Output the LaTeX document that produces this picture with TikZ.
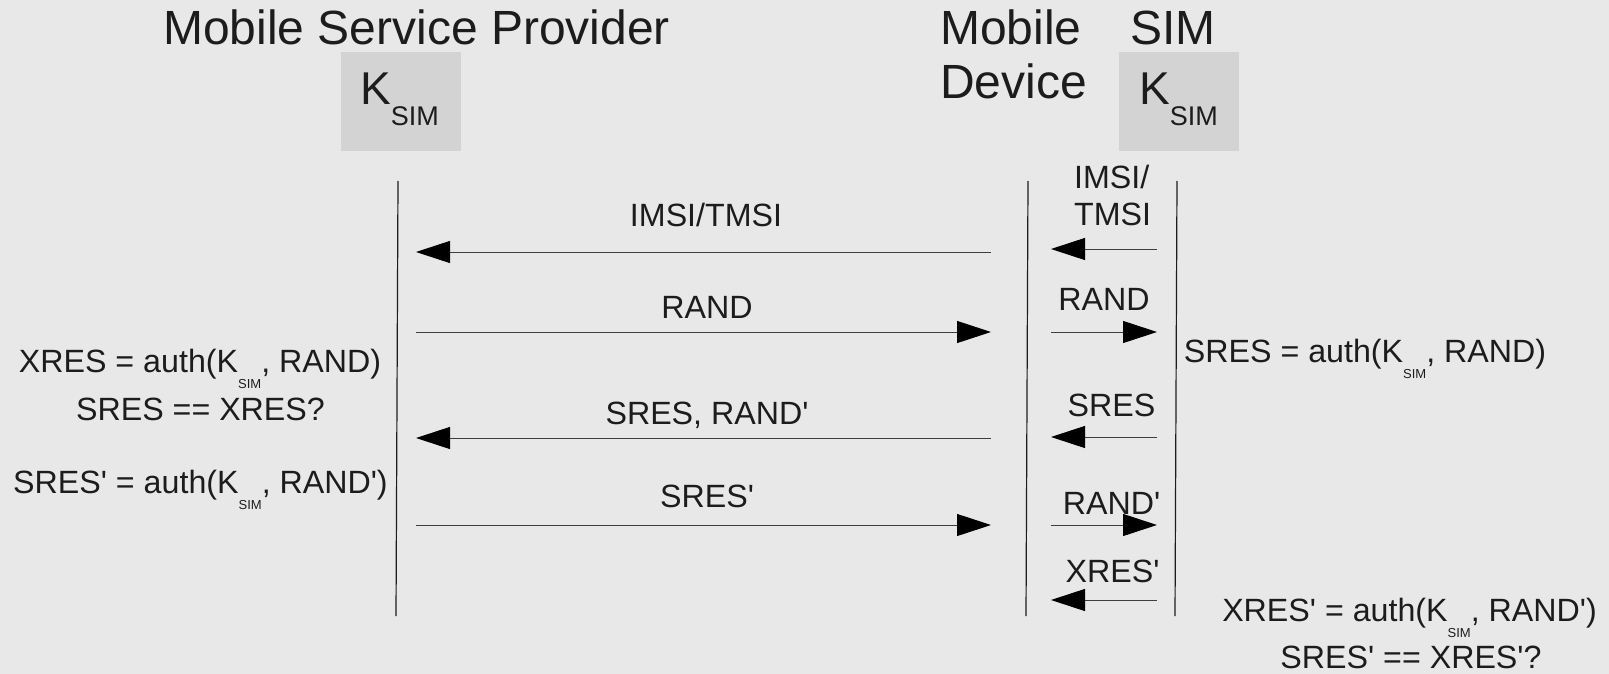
\documentclass[tikz,border=0pt]{standalone}
\usepackage{fontspec}
\setmainfont{Liberation Sans}
\usetikzlibrary{arrows.meta}
\definecolor{bg}{RGB}{232,232,232}
\definecolor{boxfill}{RGB}{211,211,211}
\definecolor{ink}{RGB}{28,28,28}
\newcommand{\ksub}{K\raisebox{-16pt}{\fontsize{13}{13}\selectfont SIM}}
\newcommand{\kbig}{K\raisebox{-21pt}{\fontsize{27}{27}\selectfont SIM}}
\newcommand{\pr}{\textquotesingle}
\begin{document}
\begin{tikzpicture}[x=1pt,y=-1pt,
  title/.style={font=\fontsize{48}{48}\selectfont, text=ink, inner sep=0, anchor=base west},
  keytxt/.style={font=\fontsize{46}{46}\selectfont, text=ink, inner sep=0, anchor=base west},
  lbl/.style={font=\fontsize{32.2}{32.2}\selectfont, text=ink, inner sep=0, anchor=base},
  lblw/.style={font=\fontsize{32.2}{32.2}\selectfont, text=ink, inner sep=0, anchor=base west},
  keybox/.style={fill=boxfill, draw=none, inner sep=0, minimum width=120pt, minimum height=99pt},
  life/.style={line width=1.2pt, draw=ink},
  msg/.style={line width=1pt, draw=ink!85, -{Triangle[length=34pt,width=22pt,color=black]}},
]
\fill[bg] (0,0) rectangle (1609,674);
\useasboundingbox (0,0) rectangle (1609,674);

% titles
\node[title] (tmsp) at (163,45) {Mobile Service Provider};
\node[title] (tmob) at (940,45) {Mobile};
\node[title] (tdev) at (940,99) {Device};
\node[title] (tsim) at (1130,45) {SIM};

% key boxes
\node[keybox] (box1) at (401,101.5) {};
\node[keybox] (box2) at (1179,101.5) {};
\node[keytxt] (k1) at (360,105) {\kbig};
\node[keytxt] (k2) at (1139,105) {\kbig};

% lifelines
\coordinate (l1t) at (398,181); \coordinate (l1b) at (396,616);
\coordinate (l2t) at (1028,181); \coordinate (l2b) at (1026,616);
\coordinate (l3t) at (1177,181); \coordinate (l3b) at (1175,616);
\draw[life] (l1t) -- (l1b);
\draw[life] (l2t) -- (l2b);
\draw[life] (l3t) -- (l3b);

% big messages
\coordinate (a1r) at (991,252); \coordinate (a1l) at (416,252);
\coordinate (a2r) at (991,332); \coordinate (a2l) at (416,332);
\coordinate (a3r) at (991,438); \coordinate (a3l) at (416,438);
\coordinate (a4r) at (991,525); \coordinate (a4l) at (416,525);
\draw[msg] (a1r) -- (a1l);
\draw[msg] (a2l) -- (a2r);
\draw[msg] (a3r) -- (a3l);
\draw[msg] (a4l) -- (a4r);
\node[lbl] (m1) at (706,226) {IMSI/TMSI};
\node[lbl] (m2) at (707,318) {RAND};
\node[lbl] (m3) at (707,424) {SRES, RAND\pr};
\node[lbl] (m4) at (707,507) {SRES\pr};

% small messages
\coordinate (b1r) at (1157,249); \coordinate (b1l) at (1051,249);
\coordinate (b2r) at (1157,332); \coordinate (b2l) at (1051,332);
\coordinate (b3r) at (1157,437); \coordinate (b3l) at (1051,437);
\coordinate (b4r) at (1157,525); \coordinate (b4l) at (1051,525);
\coordinate (b5r) at (1157,600); \coordinate (b5l) at (1051,600);
\draw[msg] (b1r) -- (b1l);
\draw[msg] (b2l) -- (b2r);
\draw[msg] (b3r) -- (b3l);
\draw[msg] (b4l) -- (b4r);
\draw[msg] (b5r) -- (b5l);
\node[lblw] (s1a) at (1074,189) {IMSI/};
\node[lblw] (s1b) at (1074,225) {TMSI};
\node[lbl] (s2) at (1104,310) {RAND};
\node[lbl] (s3) at (1111.5,416) {SRES};
\node[lbl] (s4) at (1111.5,514) {RAND\pr};
\node[lbl] (s5) at (1112.5,582) {XRES\pr};

% computations
\node[lbl] (c1) at (200,372) {XRES = auth(\ksub, RAND)};
\node[lbl] (c2) at (200.5,420) {SRES == XRES?};
\node[lbl] (c3) at (200.5,493) {SRES\pr{} = auth(\ksub, RAND\pr)};
\node[lbl] (c4) at (1365,362) {SRES = auth(\ksub, RAND)};
\node[lbl] (c5) at (1409.5,621) {XRES\pr{} = auth(\ksub, RAND\pr)};
\node[lbl] (c6) at (1411,668) {SRES\pr{} == XRES\pr?};
\end{tikzpicture}
\end{document}
